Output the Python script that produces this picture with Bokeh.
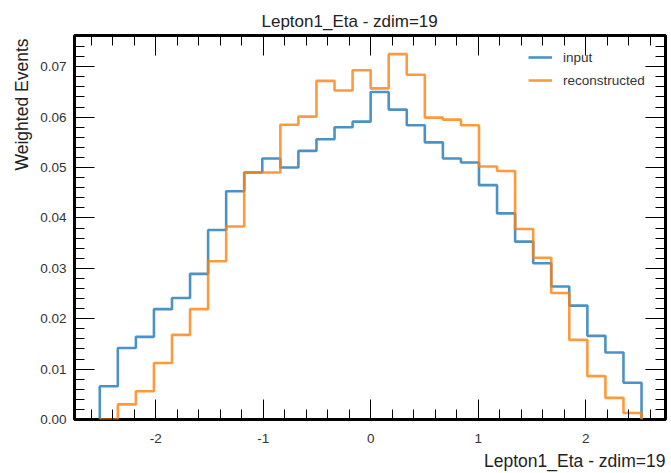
import numpy as np
from bokeh.plotting import figure
from bokeh.models import (Range1d, LinearAxis, SingleIntervalTicker, NumeralTickFormatter,
                          CustomJSTickFormatter, Title, Legend, LegendItem)
from bokeh.embed import file_html
from bokeh.resources import INLINE

# ---- data ----
title_text = "Lepton1_Eta - zdim=19"
x_label = "Lepton1_Eta - zdim=19"
y_label = "Weighted Events"
bin_lo, bin_hi, n_bins = -2.52, 2.52, 30

input_vals = [0.0066, 0.0142, 0.0164, 0.0219, 0.0241, 0.0289, 0.0376, 0.0453, 0.0490, 0.0518,
              0.0500, 0.0533, 0.0556, 0.0580, 0.0591, 0.0650, 0.0615, 0.0584, 0.0550, 0.0518,
              0.0510, 0.0465, 0.0409, 0.0353, 0.0310, 0.0264, 0.0226, 0.0166, 0.0133, 0.0073]
reco_vals = [0.0000, 0.0030, 0.0056, 0.0112, 0.0168, 0.0219, 0.0314, 0.0383, 0.0490, 0.0490,
             0.0585, 0.0601, 0.0672, 0.0653, 0.0693, 0.0657, 0.0725, 0.0684, 0.0599, 0.0595,
             0.0584, 0.0502, 0.0493, 0.0378, 0.0321, 0.0251, 0.0158, 0.0086, 0.0043, 0.0013]

FONT = "Liberation Sans"
TXT = "#333333"

p = figure(width=671, height=473, output_backend="svg", toolbar_location=None,
           x_range=Range1d(-2.755, 2.743), y_range=Range1d(0, 0.0762),
           min_border_left=74, min_border_right=6, min_border_top=35, min_border_bottom=53,
           x_axis_location=None, y_axis_location=None)
p.grid.visible = False
p.outline_line_color = "black"
p.outline_line_width = 3
p.background_fill_color = "white"
p.border_fill_color = "white"

def style_axis(ax, labels=True):
    ax.axis_line_color = None
    ax.major_tick_in = 20
    ax.major_tick_out = 0
    ax.minor_tick_in = 10
    ax.minor_tick_out = 0
    ax.major_tick_line_color = "black"
    ax.minor_tick_line_color = "black"
    ax.major_tick_line_width = 1
    ax.minor_tick_line_width = 1
    ax.major_label_text_font = FONT
    ax.major_label_text_font_size = "13.5px"
    ax.major_label_text_color = TXT
    if not labels:
        ax.formatter = CustomJSTickFormatter(code="return ''")
        ax.major_label_standoff = 0

xt = lambda: SingleIntervalTicker(interval=1, num_minor_ticks=5)
yt = lambda: SingleIntervalTicker(interval=0.01, num_minor_ticks=5)

xb = LinearAxis(ticker=xt(), formatter=CustomJSTickFormatter(code="return String(Math.round(tick))"))
style_axis(xb)
xb.major_label_standoff = 14
p.add_layout(xb, "below")

xa = LinearAxis(ticker=xt())
style_axis(xa, labels=False)
p.add_layout(xa, "above")

yl = LinearAxis(ticker=yt(), formatter=NumeralTickFormatter(format="0.00"))
style_axis(yl)
yl.major_label_standoff = 8
p.add_layout(yl, "left")

yr = LinearAxis(ticker=yt())
style_axis(yr, labels=False)
p.add_layout(yr, "right")

# histograms as step outlines
edges = np.linspace(bin_lo, bin_hi, n_bins + 1)

def step_xy(vals):
    xs = np.repeat(edges, 2)
    ys = np.concatenate([[0.0], np.repeat(np.asarray(vals), 2), [0.0]])
    return xs, ys

bx, by = step_xy(input_vals)
rx, ry = step_xy(reco_vals)
r_in = p.line(bx, by, line_color="#1f77b4", line_width=2.6, line_alpha=0.8)
r_re = p.line(rx, ry, line_color="#ff7f0e", line_width=2.6, line_alpha=0.8)

legend = Legend(items=[LegendItem(label="input", renderers=[r_in]),
                       LegendItem(label="reconstructed", renderers=[r_re])],
                location=(454, 329), padding=0, margin=0, spacing=3,
                glyph_width=24, glyph_height=20, label_standoff=11,
                border_line_color=None, background_fill_alpha=0,
                label_text_font=FONT, label_text_font_size="13.5px",
                label_text_color=TXT)
p.add_layout(legend, "center")

p.title.text = title_text
p.title.text_font = FONT
p.title.text_font_size = "17px"
p.title.text_font_style = "normal"
p.title.text_color = "#222222"
p.title.align = "left"
p.title.offset = 187

xlab = Title(text=x_label, align="right", text_font=FONT, text_font_size="17.5px",
             text_font_style="normal", text_color="#222222", standoff=6)
p.add_layout(xlab, "below")

ylab = Title(text=y_label, align="right", text_font=FONT, text_font_size="17.5px",
             text_font_style="normal", text_color="#222222", standoff=12, offset=3)
p.add_layout(ylab, "left")

open("out.html", "w").write(file_html(p, INLINE))
